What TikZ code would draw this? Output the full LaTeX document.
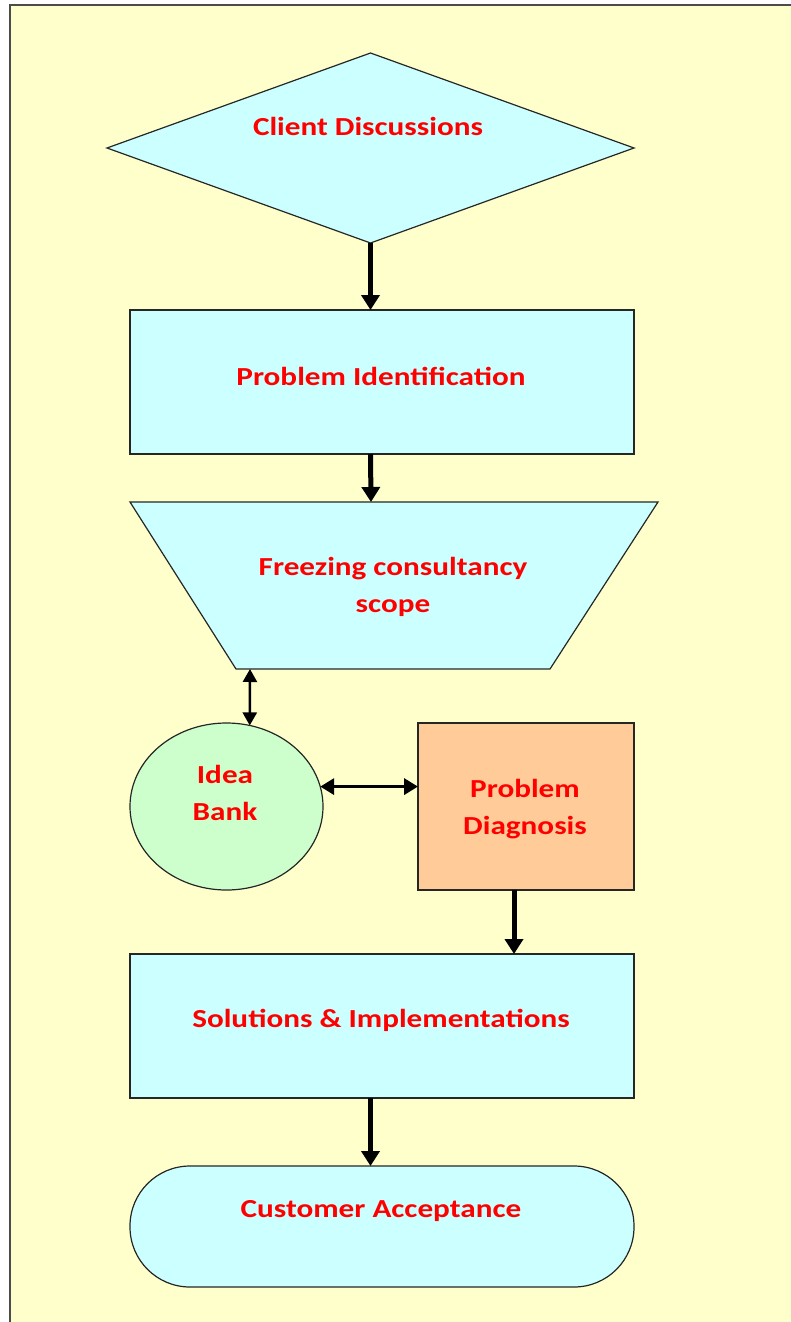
\documentclass[tikz,border=0pt]{standalone}
\usepackage{fontspec}
\setmainfont{Carlito}[FakeStretch=1.2]
\usetikzlibrary{shapes.geometric,arrows.meta}
\definecolor{bgyellow}{HTML}{FFFFCC}
\definecolor{boxcyan}{HTML}{CCFFFF}
\definecolor{idgreen}{HTML}{CCFFCC}
\definecolor{peach}{HTML}{FFCC99}
\begin{document}
\begin{tikzpicture}[x=1pt,y=-1pt,
  shapebox/.style={draw=black!85, line width=1.2pt, inner sep=0pt, outer sep=0pt},
  lbl/.style={text=red, font=\bfseries\fontsize{26}{37}\selectfont, align=center, inner sep=0pt},
  bigarrow/.style={line width=5pt, -{Triangle[width=18pt,length=15pt]}},
  thinarrow/.style={line width=2.5pt, {Triangle[width=14pt,length=13pt]}-{Triangle[width=14pt,length=13pt]}},
  midarrow/.style={line width=3.5pt, {Triangle[width=16pt,length=14pt]}-{Triangle[width=16pt,length=14pt]}},
]
\useasboundingbox (0,0) rectangle (791,1322);
\clip (0,0) rectangle (791,1322);
\fill[white] (0,0) rectangle (791,1322);
\draw[fill=bgyellow, draw=black!70, line width=1.5pt] (10,5) rectangle (800,1340);

% shapes
\node[shapebox, diamond, fill=boxcyan, minimum width=527pt, minimum height=190pt] (cd) at (370.5,148) {};
\node[shapebox, rectangle, fill=boxcyan, minimum width=504pt, minimum height=144pt] (pid) at (382,382) {};
\draw[shapebox, fill=boxcyan] (130,502) -- (658,502) -- (550,669) -- (236,669) -- cycle;
\coordinate (trapN) at (371,502);
\coordinate (trapS) at (250,669);
\node[shapebox, ellipse, fill=idgreen, minimum width=193pt, minimum height=167pt] (idea) at (226.5,806.5) {};
\node[shapebox, rectangle, fill=peach, minimum width=216pt, minimum height=167pt] (pdx) at (526,806.5) {};
\node[shapebox, rectangle, fill=boxcyan, minimum width=504pt, minimum height=144pt] (sol) at (382,1026) {};
\node[shapebox, rectangle, rounded corners=60pt, fill=boxcyan, minimum width=504pt, minimum height=121pt] (acc) at (382,1226.5) {};

% labels
\node[lbl] (tcd) at (368,126) {Client Discussions};
\node[lbl] (tpid) at (381,376) {Problem Identification};
\node[lbl] (ttrap) at (393,587) {Freezing consultancy\\scope};
\node[lbl] (tidea) at (225,793) {Idea\\Bank};
\node[lbl] (tpdx) at (525,809) {Problem\\Diagnosis};
\node[lbl] (tsol) at (381,1020) {Solutions \& Implementations};
\node[lbl] (tacc) at (381,1211) {Customer Acceptance};

% connectors
\draw[bigarrow] (cd.south) -- (cd.south |- pid.north);
\draw[bigarrow] (cd.south |- pid.south) -- (trapN);
\draw[thinarrow] (trapS) -- (idea.74);
\draw[midarrow] (idea.12) -- (idea.12 -| pdx.west);
\draw[bigarrow] ([xshift=-12pt]pdx.south) -- ([xshift=-12pt]pdx.south |- sol.north);
\draw[bigarrow] (cd.south |- sol.south) -- (cd.south |- acc.north);
\end{tikzpicture}
\end{document}
